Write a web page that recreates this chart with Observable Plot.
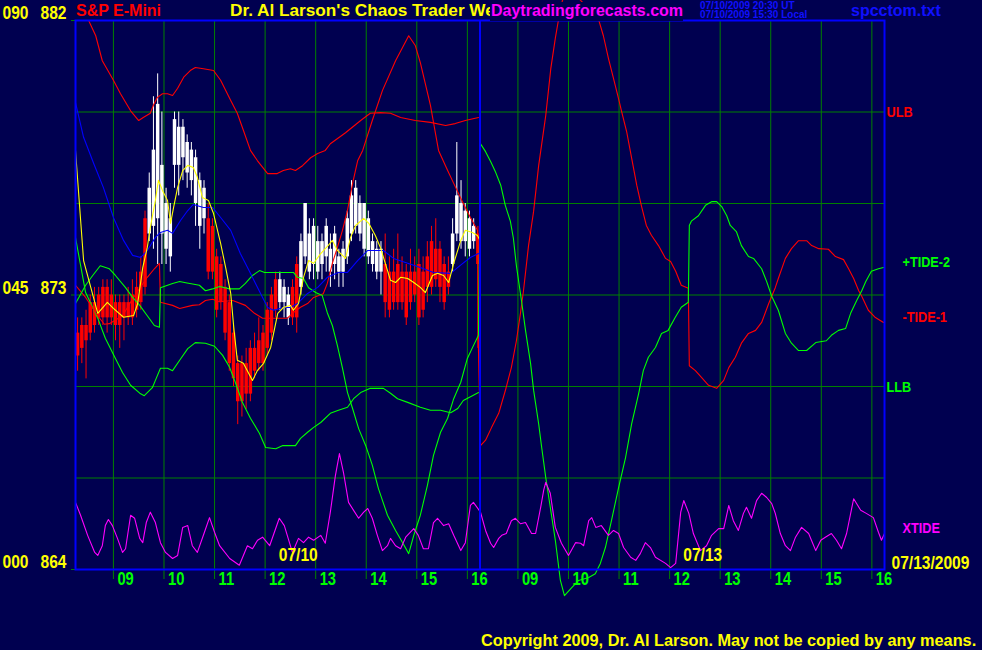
<!DOCTYPE html>
<html><head><meta charset="utf-8">
<script src="https://cdn.jsdelivr.net/npm/d3@7"></script>
<script src="https://cdn.jsdelivr.net/npm/@observablehq/plot@0.6"></script>
<style>
html,body{margin:0;padding:0;background:#000050;}
#wrap{position:relative;width:982px;height:650px;overflow:hidden;background:#000050;}
#chart svg{display:block;}
.hd{position:absolute;white-space:pre;font-family:"Liberation Sans",Arial,sans-serif;font-weight:bold;font-size:16px;line-height:1;}
</style></head><body>
<div id="wrap"><div id="chart"></div>
<div class="hd" style="left:76px;top:3px;color:#ff0000">S&amp;P E-Mini</div>
<div class="hd" style="left:230px;top:2px;color:#ffff00;font-size:17.2px">Dr. Al Larson's Chaos Trader Web</div>
<div class="hd" style="left:490px;top:2px;padding:1px 0 2px 1px;color:#ff00ff;background:#000050">Daytradingforecasts.com</div>
<div class="hd" style="left:700px;top:1px;color:#1010ff;font-size:10px;line-height:9px">07/10/2009 20:30 UT
07/10/2009 15:30 Local</div>
<div class="hd" style="left:851px;top:3px;color:#1010ff">spcctom.txt</div>
<div class="hd" style="left:481px;top:632px;color:#ffff00;font-size:16.3px">Copyright 2009, Dr. Al Larson. May not be copied by any means.</div>
</div>
<script>
// ---- axis values ----
const sessionDates = ["07/10", "07/13"];
const lastDate = "07/13/2009";
const tickHours = [9, 10, 11, 12, 13, 14, 15, 16];
const sessionStart = 8.25;   // 08:15
const sessionLength = 8;     // hours per session
const gridPrices = [867, 870, 873, 876, 879];
const yLabelPrices = [882, 873, 864];
const yLabelIndex = ["090", "045", "000"];

// ---- 5-minute bars, 07/10 (price) ----
const barOpen  = [871.75,872,872,872.75,872.75,873,873.25,873.25,873,872.75,872.75,872.75,872.75,873,873.25,873.75,875.5,875,875.25,875.5,875,874.5,874.25,877.25,877.25,877.5,877,876.75,876,875.25,875.5,875.5,875.25,874.25,874,873.25,872.75,871.75,870.75,870.75,870.75,871.25,871.25,871.5,871.75,872.5,873,873.5,872.75,872.75,872.25,873.25,874,873.25,874.25,873.75,874,873.75,874,874.25,873.75,874,873.75,873.75,874.25,875,875.25,875,874.5,874.25,874,873.75,873.75,874,873.75,873.75,874,873.75,873.75,873.75,873.75,874,873.75,874.25,874.75,874.5,874.5,874,873.75,874,875,874.75,874.75,874.5,874.75,875];
const barHigh  = [872.25,872.25,872.5,873,873.25,873.25,873.5,873.5,873.5,873,873,873,873.25,873.5,873.75,874.25,875.75,877,879.5,880.25,879,876.5,876,879,879,878.75,878.25,878,877.75,877,876.75,876,875.5,874.5,874.25,873.5,873,872,871,871,871.25,871.5,871.75,872.25,872,872.75,873.25,873.75,873.75,873.5,873.25,873.5,874.25,875,876,875.5,875.5,875.25,875,875.5,875,875.25,874.5,874.75,875.75,876.75,876.75,876.25,876,875.75,875,874.75,874.75,875,874.25,874.5,875,874.25,874,874.5,874.25,874.5,874.25,874.75,875.25,875.5,874.75,874.25,874.25,875.5,878,876.75,876,875.75,875.5,875.25];
const barLow   = [870.5,870.75,870.25,871.5,871.75,872,872,871.75,872,871.5,871.25,871.5,872,872,872.25,872.5,873,874.75,874.5,874,874,874,873.75,876.5,876.25,876.75,876.5,876.25,875.25,874.5,875,873.5,873.5,872.25,872.5,871.5,870.5,870,868.75,869,869.25,869.5,870.25,870.5,870.5,871,871.5,872.25,872.5,872.25,872,872,871.75,873,874,873.5,873.5,873.5,873.5,873.75,873.25,873.5,873.25,873.25,874,874.75,875,874.75,874.25,874,873.75,873.5,873,872.25,872.25,872.5,872.5,872.5,872,872.5,872.75,872,872.25,872.75,873,873.25,872.75,872.5,873,873.75,874.75,874.5,874.25,874.25,874.5,871.25];
const barClose = [871,871.25,871.5,871.75,872,872.25,872.25,872.25,872.25,872,872,872.25,872.25,872.25,872.5,872.75,873.25,876.5,877.75,879.25,877.25,876,875.5,878.75,878.5,878.5,878,877.75,877.5,876.75,876.5,873.75,873.75,872.5,872.75,871.75,870.75,870.25,869.5,869.5,869.75,869.75,870.5,870.75,870.75,871.25,871.75,872.5,873.5,873.25,873,872.25,872.25,874.75,876,875,875.25,874.75,874.75,875.25,874.5,875,874.25,874.5,875.5,876.25,876.5,876,876,875.5,874.75,874.5,874.5,872.75,872.5,872.75,872.75,872.75,872.25,872.75,873,872.25,872.5,873.25,873.25,873.5,873.25,872.75,873.25,875,876.25,876,875.75,875.5,875.25,874];

// ---- price averages, 07/10 [session hour, price] ----
const fastAvg = [[0,877.74],[0.16,874.13],[0.44,872.4],[0.63,872.76],[0.75,872.56],[0.95,872.27],[1.15,872.33],[1.23,872.72],[1.33,873.9],[1.42,874.56],[1.48,875.22],[1.58,876.1],[1.64,876.76],[1.72,876.43],[1.82,876.1],[1.88,875.35],[1.94,875.87],[2.02,876.53],[2.12,877.08],[2.22,877.25],[2.33,877.18],[2.41,876.86],[2.51,876.2],[2.63,876.1],[2.73,875.67],[2.87,874.69],[2.97,873.9],[3.07,873.05],[3.13,871.94],[3.2,870.86],[3.32,870.76],[3.5,870.2],[3.6,870.53],[3.72,870.76],[3.86,871.28],[4.0,872.4],[4.11,872.59],[4.25,872.66],[4.31,872.5],[4.41,872.72],[4.51,873.58],[4.61,874.13],[4.71,874.04],[4.85,874.36],[5.0,874.63],[5.08,874.79],[5.18,874.46],[5.34,874.2],[5.44,874.89],[5.54,875.28],[5.7,875.51],[5.8,875.35],[5.93,874.95],[6.03,874.56],[6.23,873.48],[6.33,873.41],[6.43,873.58],[6.57,873.54],[6.69,873.41],[6.82,873.25],[6.92,873.08],[7.06,873.64],[7.16,873.71],[7.28,873.64],[7.38,873.41],[7.48,874.04],[7.62,874.79],[7.71,875.12],[7.85,875.05],[7.95,874.95],[8.0,874.79]];
const slowAvg = [[0,879.31],[0.16,878.17],[0.36,877.31],[0.55,876.53],[0.75,875.54],[0.95,874.79],[1.13,874.3],[1.29,874.23],[1.42,874.46],[1.58,874.89],[1.68,875.05],[1.82,875.12],[1.92,875.02],[2.08,875.45],[2.22,875.77],[2.33,875.97],[2.53,875.87],[2.71,875.87],[2.87,875.54],[3.07,875.12],[3.26,874.36],[3.46,873.71],[3.66,873.05],[3.8,872.59],[3.92,872.5],[4.11,872.59],[4.25,872.59],[4.39,872.72],[4.59,873.05],[4.79,873.25],[4.98,873.58],[5.2,873.74],[5.38,873.74],[5.58,874.13],[5.78,874.46],[6.09,874.46],[6.29,874.2],[6.57,874.04],[6.82,873.9],[7.08,873.74],[7.42,873.71],[7.61,873.97],[7.81,874.23],[7.97,874.36]];

// ---- indicator curves on the 000-090 scale [session hour, value] ----
const ulb = [[0.26,90.0],[0.4,87.5],[0.53,83.4],[0.75,80.2],[0.89,78.0],[1.09,75.2],[1.25,73.6],[1.34,74.1],[1.48,74.8],[1.54,76.1],[1.62,77.4],[1.72,78.0],[1.82,78.0],[1.92,77.7],[2.02,78.9],[2.14,80.7],[2.27,81.8],[2.37,82.3],[2.53,82.1],[2.73,81.8],[2.87,80.2],[3.07,76.9],[3.2,74.8],[3.32,72.0],[3.46,68.7],[3.6,67.0],[3.8,64.9],[3.99,64.9],[4.11,65.4],[4.25,65.7],[4.35,65.4],[4.49,66.2],[4.65,67.5],[4.79,68.2],[4.94,68.7],[5.04,69.8],[5.34,71.6],[5.64,73.6],[5.83,74.8],[6.03,74.9],[6.23,74.8],[6.43,74.1],[6.72,73.6],[7.02,73.3],[7.32,72.8],[7.51,73.1],[7.71,73.6],[7.97,74.1]];
const llb = [[0,54.4],[0.2,45.4],[0.44,41.2],[0.59,37.9],[0.79,34.6],[0.93,32.3],[1.09,30.2],[1.27,28.9],[1.36,28.5],[1.52,29.8],[1.58,31.0],[1.68,33.0],[1.82,33.0],[1.92,32.6],[2.06,34.3],[2.22,36.2],[2.37,37.2],[2.57,37.1],[2.75,36.6],[2.91,35.1],[3.05,33.1],[3.16,30.7],[3.3,27.4],[3.46,24.8],[3.64,22.3],[3.76,20.0],[3.96,19.8],[4.09,20.3],[4.35,20.3],[4.45,21.5],[4.59,22.5],[4.71,23.3],[4.85,24.1],[5.04,25.6],[5.2,26.1],[5.38,26.6],[5.5,28.0],[5.64,29.0],[5.83,29.7],[6.09,29.7],[6.23,28.9],[6.37,28.0],[6.57,27.4],[6.82,26.6],[7.02,26.1],[7.22,26.1],[7.42,25.7],[7.56,26.4],[7.67,27.7],[7.85,28.5],[7.97,29.0]];
const tide1 = [[0,46.6],[0.2,44.6],[0.44,41.6],[0.57,40.2],[0.67,40.3],[0.93,41.6],[1.09,43.8],[1.27,46.1],[1.42,47.9],[1.56,49.3],[1.66,50.2],[1.68,43.8],[1.92,43.3],[2.06,42.8],[2.31,43.3],[2.45,43.4],[2.57,44.1],[2.71,44.3],[2.85,43.9],[3.11,44.1],[3.36,43.3],[3.54,42.0],[3.7,41.2],[4.19,41.2],[4.31,42.1],[4.45,43.0],[4.59,43.6],[4.71,44.6],[4.9,45.2],[4.98,46.9],[5.08,50.2],[5.18,52.8],[5.28,55.6],[5.38,58.9],[5.48,63.3],[5.58,67.0],[5.68,68.7],[5.87,73.6],[6.07,78.5],[6.33,83.4],[6.59,87.5],[6.72,85.9],[6.82,83.1],[7.02,76.1],[7.18,68.7],[7.36,65.4],[7.48,63.3],[7.67,60.0],[7.81,57.7],[7.95,55.6],[7.97,35.9],[8.01,20.3],[8.11,21.2],[8.23,23.3],[8.37,25.6],[8.5,29.3],[8.62,33.1],[8.72,37.5],[8.8,42.0],[8.86,45.7],[8.96,53.1],[9.06,58.7],[9.16,66.2],[9.3,74.4],[9.4,82.1],[9.49,87.1],[9.55,90.0],[9.63,93.3],[9.81,95.2],[9.99,93.3],[10.19,91.6],[10.34,90.3],[10.44,87.5],[10.54,83.8],[10.64,80.5],[10.74,77.2],[10.8,75.1],[10.9,71.8],[11.0,67.4],[11.1,63.0],[11.19,59.7],[11.29,56.4],[11.39,54.8],[11.53,53.1],[11.67,51.0],[11.77,50.5],[11.87,48.9],[11.98,46.6],[12.12,46.1],[12.14,33.4],[12.26,32.6],[12.38,31.5],[12.52,30.2],[12.68,29.7],[12.82,31.0],[12.92,33.1],[13.05,34.8],[13.17,37.1],[13.31,38.7],[13.45,39.2],[13.57,40.5],[13.71,43.6],[13.84,46.2],[13.9,47.7],[14.04,51.0],[14.16,52.6],[14.3,53.9],[14.46,53.9],[14.56,53.1],[14.7,52.6],[14.89,52.5],[15.03,51.3],[15.19,50.8],[15.29,49.3],[15.39,47.7],[15.49,45.7],[15.55,44.8],[15.68,42.5],[15.82,41.3],[15.98,40.5]];
const tide2 = [[0,43.6],[0.2,46.6],[0.34,48.2],[0.49,49.8],[0.67,49.3],[0.79,48.2],[0.99,46.2],[1.13,44.6],[1.27,43.3],[1.42,41.6],[1.56,40.0],[1.66,39.7],[1.68,46.2],[1.92,46.9],[2.06,47.2],[2.18,47.0],[2.45,46.6],[2.57,45.7],[2.71,46.0],[2.85,46.4],[3.05,46.0],[3.24,46.0],[3.36,46.9],[3.5,48.2],[3.64,49.0],[3.74,48.7],[4.31,48.7],[4.39,47.9],[4.51,47.7],[4.61,46.2],[4.75,45.4],[4.88,44.9],[4.98,42.1],[5.08,40.0],[5.18,36.7],[5.28,33.0],[5.38,29.0],[5.48,26.4],[5.6,23.1],[5.74,20.3],[5.87,17.1],[5.99,13.3],[6.17,8.9],[6.33,6.4],[6.47,4.4],[6.59,2.6],[6.69,5.6],[6.82,8.9],[6.96,13.8],[7.08,18.7],[7.22,22.5],[7.36,24.8],[7.48,28.0],[7.62,30.7],[7.75,34.6],[7.87,36.7],[7.97,38.4],[8.01,69.8],[8.11,68.5],[8.21,66.9],[8.3,65.3],[8.41,63.0],[8.5,59.7],[8.6,57.1],[8.66,54.3],[8.72,49.8],[8.82,44.1],[8.9,39.2],[9.0,33.8],[9.06,29.4],[9.16,23.9],[9.22,20.0],[9.3,15.1],[9.39,10.2],[9.49,4.8],[9.59,-1.8],[9.67,-4.3],[9.81,-3.0],[9.95,-1.8],[10.15,-1.3],[10.28,-0.7],[10.38,1.0],[10.48,3.6],[10.6,8.0],[10.74,13.4],[10.88,18.4],[11.0,23.9],[11.14,28.9],[11.23,32.6],[11.33,34.8],[11.47,36.4],[11.59,38.7],[11.72,39.2],[11.86,41.3],[11.98,43.0],[12.12,43.8],[12.14,56.4],[12.18,57.1],[12.32,58.0],[12.46,59.7],[12.58,60.3],[12.68,60.3],[12.78,59.5],[12.88,58.0],[12.95,56.4],[13.07,55.4],[13.17,53.1],[13.31,51.3],[13.41,51.0],[13.57,49.3],[13.67,47.2],[13.77,44.8],[13.9,42.5],[14.04,38.7],[14.16,37.1],[14.3,35.9],[14.46,35.9],[14.64,37.2],[14.85,37.5],[14.95,38.4],[15.09,39.2],[15.23,39.5],[15.33,42.0],[15.45,44.1],[15.55,45.7],[15.63,47.2],[15.74,48.9],[15.88,49.3],[15.98,49.5]];
const xtide = [[0,11.0],[0.1,8.9],[0.24,5.6],[0.38,2.8],[0.44,2.3],[0.53,3.9],[0.59,7.2],[0.65,8.2],[0.73,7.2],[0.83,5.1],[0.93,2.8],[0.99,3.4],[1.09,8.9],[1.17,8.4],[1.27,5.1],[1.33,4.4],[1.4,7.7],[1.48,9.4],[1.58,7.7],[1.68,4.4],[1.78,2.8],[1.92,1.8],[2.02,2.3],[2.12,6.9],[2.22,7.2],[2.31,3.9],[2.41,2.8],[2.55,6.1],[2.65,8.5],[2.75,6.1],[2.85,3.9],[3.05,1.8],[3.24,0.7],[3.4,3.9],[3.5,3.4],[3.6,4.8],[3.7,5.3],[3.84,3.9],[4.03,8.4],[4.13,7.2],[4.29,2.8],[4.41,5.1],[4.51,4.4],[4.61,5.3],[4.71,4.8],[4.85,5.6],[4.94,4.3],[5.04,9.4],[5.14,15.4],[5.22,19.0],[5.3,15.9],[5.4,11.0],[5.5,9.7],[5.6,8.4],[5.7,9.4],[5.78,10.0],[5.87,8.4],[5.97,5.6],[6.07,3.1],[6.17,3.9],[6.23,5.1],[6.33,3.9],[6.43,3.4],[6.53,5.3],[6.69,6.7],[6.78,5.6],[6.88,3.4],[6.98,3.4],[7.08,7.7],[7.16,8.4],[7.28,7.2],[7.38,7.5],[7.48,5.6],[7.62,3.1],[7.71,4.4],[7.81,10.5],[7.87,11.0],[8.01,9.4],[8.11,6.4],[8.21,4.3],[8.27,3.6],[8.37,5.1],[8.43,5.6],[8.52,5.9],[8.62,8.0],[8.7,8.4],[8.8,7.5],[8.9,7.7],[9.02,5.9],[9.1,5.9],[9.2,10.2],[9.26,13.0],[9.3,14.3],[9.39,12.5],[9.49,6.9],[9.61,4.3],[9.75,2.3],[9.89,4.4],[9.99,4.3],[10.05,3.9],[10.15,8.0],[10.21,8.5],[10.29,6.9],[10.4,7.2],[10.54,5.6],[10.64,6.4],[10.74,5.9],[10.84,3.6],[10.98,2.0],[11.08,1.5],[11.17,2.6],[11.27,4.4],[11.37,3.6],[11.47,2.0],[11.67,1.0],[11.77,0.3],[11.87,1.0],[11.97,9.4],[12.03,11.3],[12.13,9.2],[12.22,5.9],[12.36,3.1],[12.48,3.9],[12.58,5.6],[12.72,6.7],[12.82,6.7],[12.92,10.5],[13.01,8.0],[13.11,6.4],[13.21,9.2],[13.27,10.2],[13.37,8.4],[13.47,11.3],[13.57,12.5],[13.67,11.8],[13.77,10.8],[13.84,9.2],[13.94,5.9],[14.04,3.9],[14.14,3.1],[14.24,5.3],[14.36,6.9],[14.5,5.9],[14.64,3.1],[14.74,4.8],[14.83,5.3],[14.95,5.9],[15.05,4.8],[15.15,3.4],[15.25,5.9],[15.39,11.6],[15.53,9.7],[15.64,9.2],[15.78,8.5],[15.88,6.1],[15.94,4.8],[16.0,5.9]];

// ---- build ----
const NARROW = "'Liberation Sans Narrow','Liberation Sans',Arial,sans-serif";
const toPrice = v => 864 + v * 18 / 90;           // 000..090 -> 864..882
const asPrice = arr => arr.map(([t, v]) => ({t, p: toPrice(v)}));
const asPts = arr => arr.map(([t, p]) => ({t, p}));

const bars = barOpen.map((o, i) => ({t: (i + 0.5) / 12, o, h: barHigh[i], l: barLow[i], c: barClose[i],
  col: barClose[i] >= o ? "#ffffff" : "#ff0000"}));

const ticks = sessionDates.flatMap((d, di) => tickHours.map(h => ({
  t: di * sessionLength + h - sessionStart, label: String(h).padStart(2, "0")})));
const dateLabels = sessionDates.map((d, di) => ({t: di * sessionLength + sessionLength / 2, label: d}));
const yLabels = yLabelPrices.map((p, i) => ({p, idx: yLabelIndex[i], price: String(p)}));

const bandSeries = [
  {name: "ULB", data: ulb, color: "#ff0000"},
  {name: "LLB", data: llb, color: "#00ff00"}
];
const tideSeries = [
  {name: "+TIDE-2", data: tide2, color: "#00ff00"},
  {name: "-TIDE-1", data: tide1, color: "#ff0000"},
  {name: "XTIDE", data: xtide, color: "#ff00ff"}
];
const endLabel = s => ({name: s.name, color: s.color, p: toPrice(s.data[s.data.length - 1][1])});

const lineOpts = (c) => ({x: "t", y: "p", stroke: c, strokeWidth: 1.1});
const narrowText = {fontWeight: "bold", fontFamily: NARROW};

const chart = Plot.plot({
  width: 982, height: 650,
  marginLeft: 75, marginRight: 98, marginTop: 20, marginBottom: 81,
  style: {background: "#000050"},
  x: {domain: [0, sessionLength * sessionDates.length], axis: null},
  y: {domain: [864, 882], axis: null},
  color: {type: "identity"},
  marks: [
    Plot.ruleY(gridPrices, {stroke: "#008000", strokeWidth: 1}),
    Plot.ruleX(ticks, {x: "t", stroke: "#008000", strokeWidth: 1, insetBottom: -10}),
    Plot.axisY({ticks: yLabelPrices, tickFormat: () => "", tickSize: 4, stroke: "#008000"}),
    // bars
    Plot.ruleX(bars, {x: "t", y1: "l", y2: "h", stroke: "col", strokeWidth: 1}),
    Plot.ruleX(bars, {x: "t", y1: "o", y2: "c", stroke: "col", strokeWidth: 3.5}),
    // curves
    Plot.line(asPrice(ulb), lineOpts("#ff0000")),
    Plot.line(asPrice(llb), lineOpts("#00ff00")),
    Plot.line(asPrice(tide1), lineOpts("#ff0000")),
    Plot.line(asPrice(tide2), lineOpts("#00ff00")),
    Plot.line(asPrice(xtide), lineOpts("#ff00ff")),
    Plot.line(asPts(slowAvg), lineOpts("#0000ff")),
    Plot.line(asPts(fastAvg), lineOpts("#ffff00")),
    // frame and session divider
    Plot.frame({stroke: "#0000ff", strokeWidth: 2}),
    Plot.ruleX([sessionLength], {stroke: "#0000ff", strokeWidth: 2}),
    // labels
    Plot.text(ticks, {x: "t", text: "label", frameAnchor: "bottom", dy: 15, dx: 4, textAnchor: "start",
      fill: "#00ff00", fontSize: 18, ...narrowText}),
    Plot.text(dateLabels, {x: "t", text: "label", frameAnchor: "bottom", dy: -9, dx: 1, textAnchor: "start",
      fill: "#ffff00", fontSize: 19, ...narrowText}),
    Plot.text([lastDate], {text: d => d, frameAnchor: "bottom-right", dx: 7, dy: -1, textAnchor: "start",
      fill: "#ffff00", fontSize: 19, ...narrowText}),
    Plot.text(yLabels, {y: "p", text: "idx", frameAnchor: "left", dx: -73, dy: -7.5, textAnchor: "start",
      fill: "#ffff00", fontSize: 19, ...narrowText}),
    Plot.text(yLabels, {y: "p", text: "price", frameAnchor: "left", dx: -9, dy: -7.5, textAnchor: "end",
      fill: "#ffff00", fontSize: 19, ...narrowText}),
    Plot.text(bandSeries.map(endLabel), {y: "p", text: "name", frameAnchor: "right", dx: 2, dy: -5.5, textAnchor: "start",
      fill: "color", fontSize: 15.5, ...narrowText}),
    Plot.text(tideSeries.map(endLabel), {y: "p", text: "name", frameAnchor: "right", dx: 18, dy: -5.5, textAnchor: "start",
      fill: "color", fontSize: 15.5, ...narrowText})
  ]
});
document.getElementById("chart").appendChild(chart);
// condense the narrow-style labels horizontally (no narrow face is installed)
chart.querySelectorAll('g[font-family*="Narrow"] text').forEach(t => {
  const tr = t.getAttribute("transform") || "";
  t.setAttribute("transform", (tr + " scale(0.82,1)").trim());
});
</script>
</body></html>
